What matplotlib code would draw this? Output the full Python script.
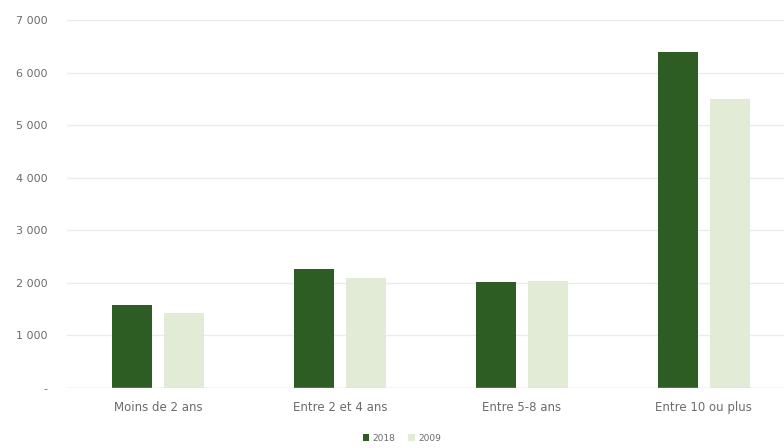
import numpy as np
import matplotlib
matplotlib.use("Agg")
import matplotlib.pyplot as plt
from matplotlib.ticker import FuncFormatter

categories = ["Moins de 2 ans", "Entre 2 et 4 ans", "Entre 5-8 ans", "Entre 10 ou plus"]
years = ["2018", "2009"]
vals_2018 = [1580, 2260, 2010, 6390]
vals_2009 = [1430, 2090, 2030, 5490]
yticks = [0, 1000, 2000, 3000, 4000, 5000, 6000, 7000]

DARK = "#2d5d22"
LIGHT = "#e2ebd6"
TXT = "#6b6b6b"


def fmt(v, _pos):
    if v == 0:
        return "-"
    return f"{int(v):,}".replace(",", " ")


fig = plt.figure(figsize=(7.84, 4.48), dpi=100)
ax = fig.add_axes([67 / 784, (448 - 388) / 448, 717 / 784, 368 / 448])

x = np.arange(len(categories))
w = 0.22
off = 0.143
ax.bar(x - off, vals_2018, width=w, color=DARK, label=years[0], zorder=3)
ax.bar(x + off, vals_2009, width=w, color=LIGHT, label=years[1], zorder=3)

ax.set_xlim(-0.5, 3.44)
ax.set_ylim(0, 7000)
ax.set_yticks(yticks)
ax.yaxis.set_major_formatter(FuncFormatter(fmt))
ax.set_xticks(x)
ax.set_xticklabels(categories)
ax.grid(axis="y", color="#ebebeb", linewidth=1, zorder=0)
for s in ax.spines.values():
    s.set_visible(False)
ax.axhline(0, color="#d9d9d9", linewidth=1, zorder=4)
ax.tick_params(axis="both", length=0, labelcolor=TXT)
ax.tick_params(axis="y", pad=14, labelsize=8)
ax.tick_params(axis="x", pad=9, labelsize=8.5)
for lab in ax.get_yticklabels():
    lab.set_horizontalalignment("right")

ax.legend(loc="center", bbox_to_anchor=(402 / 784, 10 / 448),
          bbox_transform=fig.transFigure, ncol=2, frameon=False,
          fontsize=6.5, labelcolor=TXT, handlelength=0.7, handleheight=0.7,
          handletextpad=0.4, columnspacing=1.4)

fig.savefig("out.png", dpi=100)
